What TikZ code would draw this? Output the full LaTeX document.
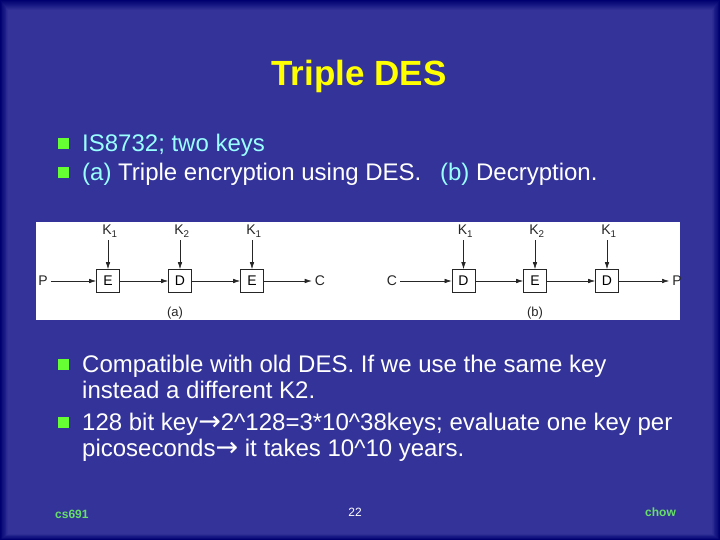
\documentclass[tikz,border=0pt]{standalone}
\usepackage{fontspec}
\setmainfont{Liberation Sans}
\newfontfamily\arrowfont{DejaVu Sans}
\usetikzlibrary{arrows.meta}
\definecolor{slide}{HTML}{333399}
\definecolor{edgenavy}{HTML}{000070}
\definecolor{cyantext}{HTML}{99FFFF}
\definecolor{bulletgreen}{HTML}{66FF33}
\definecolor{footgreen}{HTML}{66E066}
\definecolor{titleyellow}{HTML}{FFFF00}
\newcommand{\rarr}{{\arrowfont\fontsize{27}{27}\selectfont →}}
\tikzset{
  bodytxt/.style={anchor=base west, inner sep=0pt, text=white, font=\fontsize{24}{28}\selectfont},
  bulletbox/.style={fill=bulletgreen, minimum size=10.5pt, inner sep=0pt},
  cipherbox/.style={draw=black!85, line width=0.7pt, fill=white, minimum size=23pt, inner sep=0pt, font=\fontsize{14}{14}\selectfont},
  diaglbl/.style={inner sep=3pt, text=black!85, font=\fontsize{14}{14}\selectfont},
  keylbl/.style={anchor=base, inner sep=0pt, text=black!85, font=\fontsize{14}{14}\selectfont},
  flowarr/.style={-{Latex[length=7pt,width=4.5pt]}, line width=0.6pt, draw=black!85},
  foot/.style={inner sep=0pt, font=\bfseries\fontsize{12}{12}\selectfont}
}
\begin{document}
\begin{tikzpicture}[x=1pt,y=-1pt]
\useasboundingbox (0,0) rectangle (720,540);
% background with dark edges
\fill[edgenavy] (0,0) rectangle (720,540);
\foreach \i in {1,...,10}{
  \pgfmathtruncatemacro\p{\i*10}
  \fill[slide!\p!edgenavy] (\i*0.8,\i) rectangle (720-\i*0.8,540-\i*0.6);
}
% title
\node[anchor=base, inner sep=0pt, text=titleyellow, font=\bfseries\fontsize{35}{35}\selectfont] (title) at (359,86) {Triple DES};
% top bullets
\node[bulletbox] (b1) at (63.5,143.5) {};
\node[bodytxt, text=cyantext] (t1) at (82,152) {IS8732; two keys};
\node[bulletbox] (b2) at (63.5,172.5) {};
\node[bodytxt] (t2) at (82,181) {{\color{cyantext}(a)} Triple encryption using DES.\hspace{12pt} {\color{cyantext}(b)} Decryption.};
% diagram panel
\node[fill=white, minimum width=644pt, minimum height=98pt, inner sep=0pt] (panel) at (358,271) {};
\begin{scope}
\clip (36,222) rectangle (680,320);
% (a) encryption
\node[diaglbl] (pa) at (43,281) {P};
\node[cipherbox] (e1) at (108,281) {E};
\node[cipherbox] (d1) at (180,281) {D};
\node[cipherbox] (e2) at (252,281) {E};
\node[diaglbl] (ca) at (320,281) {C};
\node[keylbl] (ka1) at (110,235) {K\textsubscript{1}};
\node[keylbl] (ka2) at (182,235) {K\textsubscript{2}};
\node[keylbl] (ka3) at (254,235) {K\textsubscript{1}};
\draw[flowarr] (pa) -- (e1);
\draw[flowarr] (e1) -- (d1);
\draw[flowarr] (d1) -- (e2);
\draw[flowarr] (e2) -- (ca);
\draw[flowarr] ([yshift=-5pt]ka1.base -| e1.north) -- (e1.north);
\draw[flowarr] ([yshift=-5pt]ka2.base -| d1.north) -- (d1.north);
\draw[flowarr] ([yshift=-5pt]ka3.base -| e2.north) -- (e2.north);
\node[diaglbl, font=\fontsize{13}{13}\selectfont] (capa) at (175,313) {(a)};
% (b) decryption
\node[diaglbl] (cb) at (392,281) {C};
\node[cipherbox] (d2) at (463.5,281) {D};
\node[cipherbox] (e3) at (535,281) {E};
\node[cipherbox] (d3) at (607,281) {D};
\node[diaglbl] (pb) at (677,281) {P};
\node[keylbl] (kb1) at (465.5,235) {K\textsubscript{1}};
\node[keylbl] (kb2) at (537,235) {K\textsubscript{2}};
\node[keylbl] (kb3) at (609,235) {K\textsubscript{1}};
\draw[flowarr] (cb) -- (d2);
\draw[flowarr] (d2) -- (e3);
\draw[flowarr] (e3) -- (d3);
\draw[flowarr] (d3) -- (pb);
\draw[flowarr] ([yshift=-5pt]kb1.base -| d2.north) -- (d2.north);
\draw[flowarr] ([yshift=-5pt]kb2.base -| e3.north) -- (e3.north);
\draw[flowarr] ([yshift=-5pt]kb3.base -| d3.north) -- (d3.north);
\node[diaglbl, font=\fontsize{13}{13}\selectfont] (capb) at (535,313) {(b)};
\end{scope}
% bottom bullets
\node[bulletbox] (b3) at (63.5,364.5) {};
\node[bodytxt] (t3) at (82,372) {Compatible with old DES. If we use the same key};
\node[bodytxt] (t3b) at (82,398) {instead a different K2.};
\node[bulletbox] (b4) at (63.5,422.5) {};
\node[bodytxt] (t4) at (82,430) {128 bit key\rarr 2\textasciicircum 128=3*10\textasciicircum 38keys; evaluate one key per};
\node[bodytxt] (t4b) at (82,456) {picoseconds\rarr\ it takes 10\textasciicircum 10 years.};
% footer
\node[foot, anchor=base west, text=footgreen] (f1) at (55,518) {cs691};
\node[foot, anchor=base, text=white, font=\fontsize{12}{12}\selectfont] (f2) at (355,516) {22};
\node[foot, anchor=base west, text=footgreen] (f3) at (645,516) {chow};
\end{tikzpicture}
\end{document}
